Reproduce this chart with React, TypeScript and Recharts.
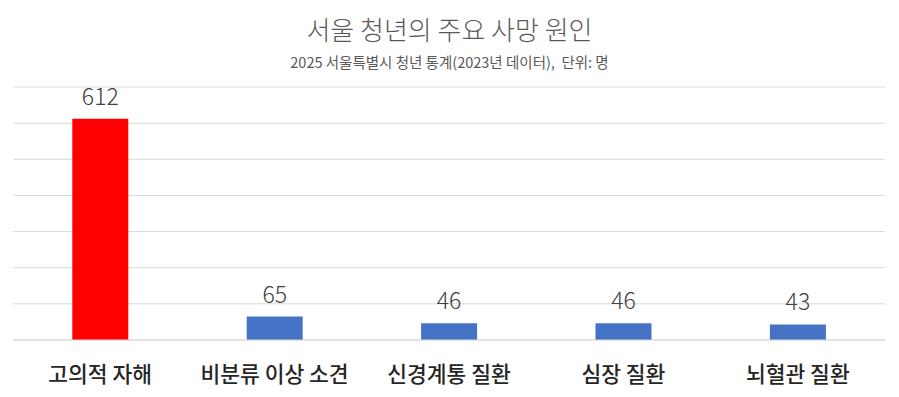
import { BarChart, Bar, XAxis, YAxis, CartesianGrid, Cell, LabelList } from 'recharts'

const categories = ['고의적 자해', '비분류 이상 소견', '신경계통 질환', '심장 질환', '뇌혈관 질환']
const deaths = [612, 65, 46, 46, 43]
const barColors = ['#ff0000', '#4472c4', '#4472c4', '#4472c4', '#4472c4']
const yTicks = [0, 100, 200, 300, 400, 500, 600, 700]

const data = categories.map((name, i) => ({ name, value: deaths[i] }))

const font = '"Noto Sans CJK KR", "Noto Sans", sans-serif'

export default function App() {
  return (
    <div style={{ position: 'absolute', left: 0, top: 0, width: 899, height: 397, background: '#fff', fontFamily: font }}>
      <div
        style={{
          position: 'absolute',
          top: 11,
          width: 899,
          textAlign: 'center',
          fontSize: 26,
          color: '#595959',
          fontWeight: 300,
          lineHeight: '36px',
        }}
      >
        서울 청년의 주요 사망 원인
      </div>
      <div
        style={{
          position: 'absolute',
          top: 51,
          width: 899,
          textAlign: 'center',
          fontSize: 14.5,
          color: '#595959',
          lineHeight: '22px',
        }}
      >
        2025 서울특별시 청년 통계(2023년 데이터),&nbsp; 단위: 명
      </div>
      <BarChart
        width={899}
        height={397}
        data={data}
        margin={{ top: 87, right: 14, bottom: 0, left: 13 }}
        barCategoryGap="34%"
      >
        <CartesianGrid horizontal vertical={false} stroke="#d9d9d9" />
        <YAxis hide domain={[0, 700]} ticks={yTicks} />
        <XAxis
          dataKey="name"
          height={57}
          axisLine={{ stroke: '#d9d9d9' }}
          tickLine={false}
          tickMargin={21}
          tick={{ fontSize: 21.5, fill: '#262626', fontFamily: font, fontWeight: 500 }}
          interval={0}
        />
        <Bar dataKey="value" isAnimationActive={false}>
          {data.map((d, i) => (
            <Cell key={d.name} fill={barColors[i]} />
          ))}
          <LabelList
            dataKey="value"
            position="top"
            offset={14}
            style={{ fontSize: 23, fill: '#404040', fontFamily: font, fontWeight: 300 }}
          />
        </Bar>
      </BarChart>
    </div>
  )
}
